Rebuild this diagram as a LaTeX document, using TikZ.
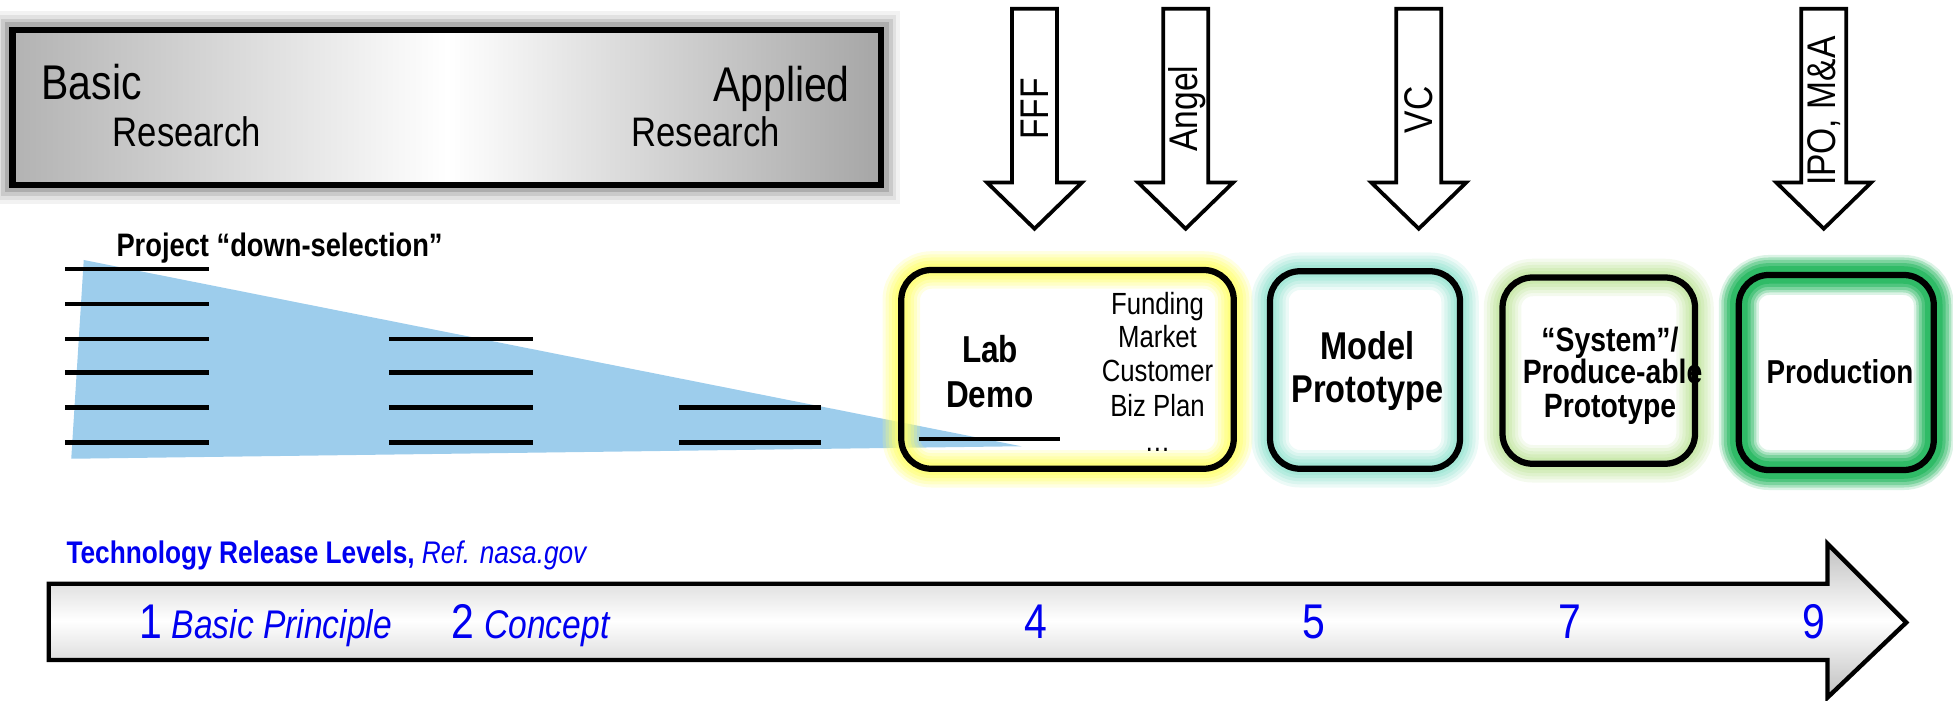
\documentclass[tikz,border=0pt]{standalone}
\usepackage{fontspec}
\setmainfont{Liberation Sans}
\newfontfamily\nar[FakeStretch=0.84]{Liberation Sans}
\definecolor{tri}{HTML}{9DCDEC}
\definecolor{glowY}{HTML}{FFFF70}
\definecolor{glowC}{HTML}{98E4D2}
\definecolor{glowG}{HTML}{C4E6A2}
\definecolor{glowP}{HTML}{10B050}
\definecolor{tblue}{HTML}{0000F0}
\newcommand\fs[1]{\fontsize{#1}{#1}\selectfont}
\newcommand\glowrect[4]{\foreach \w/\o in {#4}{\draw[#1,line width=\w pt,opacity=\o,rounded corners=24pt] #2 rectangle #3;}}
\begin{document}
\begin{tikzpicture}[x=1pt,y=-1pt,
  hline/.style={line width=3.5pt},
  stagebox/.style={line width=5pt, rounded corners=24pt},
  fundarrow/.style={draw=black, fill=white, line width=3pt, line join=miter},
  lbl/.style={inner sep=0pt, anchor=base},
  lblw/.style={inner sep=0pt, anchor=base west},
  vlbl/.style={inner sep=0pt, rotate=90, font=\nar\fs{32}}]
\useasboundingbox (0,0) rectangle (1562.4,560.8);

% research box
\foreach \w/\o in {30/0.05,24/0.07,18/0.1,12/0.14}{\draw[black,line width=\w pt,opacity=\o] (10,24) rectangle (705,148);}
\shade[left color=gray!60, right color=gray!70, middle color=white] (10,24) rectangle (705,148);
\draw[line width=5pt] (10,24) rectangle (705,148);
\node[lblw, font=\nar\fs{39}] (basic) at (33,80) {Basic};
\node[lblw, font=\nar\fs{33}] (res1) at (90,117) {Research};
\node[inner sep=0pt, anchor=base east, font=\nar\fs{39}] (applied) at (680,81) {Applied};
\node[lblw, font=\nar\fs{33}] (res2) at (505,117) {Research};

% down-selection
\node[lblw, font=\nar\bfseries\fs{26}] (proj) at (93,205) {Project “down-selection”};
\fill[tri] (67,208) -- (57,367) -- (817,357) -- cycle;
\foreach \y in {215,243,271,298,326,354}{\draw[hline] (52,\y) -- (167,\y);}
\foreach \y in {271,298,326,354}{\draw[hline] (311,\y) -- (426,\y);}
\foreach \y in {326,354}{\draw[hline] (543,\y) -- (657,\y);}

% stage boxes
\glowrect{glowY}{(721,216)}{(987,375)}{30/0.2,25/0.25,20/0.3,15/0.4,10/0.5}
\draw[stagebox] (721,216) rectangle (987,375);
\draw[hline] (735,351) -- (848,351);
\node[lbl, font=\nar\bfseries\fs{30}] (lab) at (792,290) {Lab};
\node[lbl, font=\nar\bfseries\fs{30}] (demo) at (792,326) {Demo};
\node[lbl, font=\nar\fs{24.5}] (fund) at (926,252) {Funding};
\node[lbl, font=\nar\fs{24.5}] (market) at (926,278) {Market};
\node[lbl, font=\nar\fs{24.5}] (cust) at (926,305) {Customer};
\node[lbl, font=\nar\fs{24.5}] (biz) at (926,333) {Biz Plan};
\node[lbl, font=\nar\fs{24.5}] (dots) at (926,361) {…};

\glowrect{glowC}{(1016,217)}{(1168,375)}{30/0.18,25/0.22,20/0.28,15/0.38,10/0.5}
\draw[stagebox] (1016,217) rectangle (1168,375);
\node[lbl, font=\nar\bfseries\fs{31}] (model) at (1094,288) {Model};
\node[lbl, font=\nar\bfseries\fs{31}] (proto1) at (1094,322) {Prototype};

\glowrect{glowG}{(1202,222)}{(1356,371)}{30/0.18,25/0.22,20/0.28,15/0.38,10/0.5}
\node[lbl, font=\nar\bfseries\fs{27}] (sys) at (1288,281) {“System”/};
\node[lblw, font=\nar\bfseries\fs{27}] (prodable) at (1218,307) {Produce-able};
\node[lbl, font=\nar\bfseries\fs{27}] (proto2) at (1288,334) {Prototype};
\draw[stagebox] (1202,222) rectangle (1356,371);

\glowrect{glowP}{(1391,220)}{(1547,376)}{32/0.15,28/0.25,24/0.3,19/0.4,14/0.5}
\draw[stagebox] (1391,220) rectangle (1547,376);
\node[lbl, font=\nar\bfseries\fs{26.5}] (production) at (1472,307) {Production};

% funding arrows
\foreach \cx in {827.6,948.5,1135,1459}{
  \draw[fundarrow] (\cx-18,7) -- (\cx+18,7) -- (\cx+18,146) -- (\cx+38,146) -- (\cx,183) -- (\cx-38,146) -- (\cx-18,146) -- cycle;}
\node[vlbl] (fff) at (828,87) {FFF};
\node[vlbl] (angel) at (950,87) {Angel};
\node[vlbl] (vc) at (1135,88) {VC};
\node[vlbl] (ipo) at (1459,89) {IPO, M\&A};

% TRL arrow
\node[lblw, font=\nar\fs{25}, text=tblue] (trl) at (53,451) {\bfseries Technology Release Levels, \mdseries\itshape Ref. nasa.gov};
\draw[line width=3.5pt, top color=gray!50, bottom color=gray!50, middle color=white, line join=miter]
  (39,467) -- (1462,467) -- (1462,435) -- (1525,498) -- (1462,558) -- (1462,528) -- (39,528) -- cycle;
\node[lblw, text=tblue] (t1) at (111,511) {\nar\fs{39}1\hspace{8pt}\itshape\fs{32}Basic Principle};
\node[lblw, text=tblue] (t2) at (361,511) {\nar\fs{39}2\hspace{8pt}\itshape\fs{32}Concept};
\node[lbl, text=tblue, font=\nar\fs{39}] (t4) at (829,511) {4};
\node[lbl, text=tblue, font=\nar\fs{39}] (t5) at (1051,511) {5};
\node[lbl, text=tblue, font=\nar\fs{39}] (t7) at (1256,511) {7};
\node[lbl, text=tblue, font=\nar\fs{39}] (t9) at (1451,511) {9};
\end{tikzpicture}
\end{document}
